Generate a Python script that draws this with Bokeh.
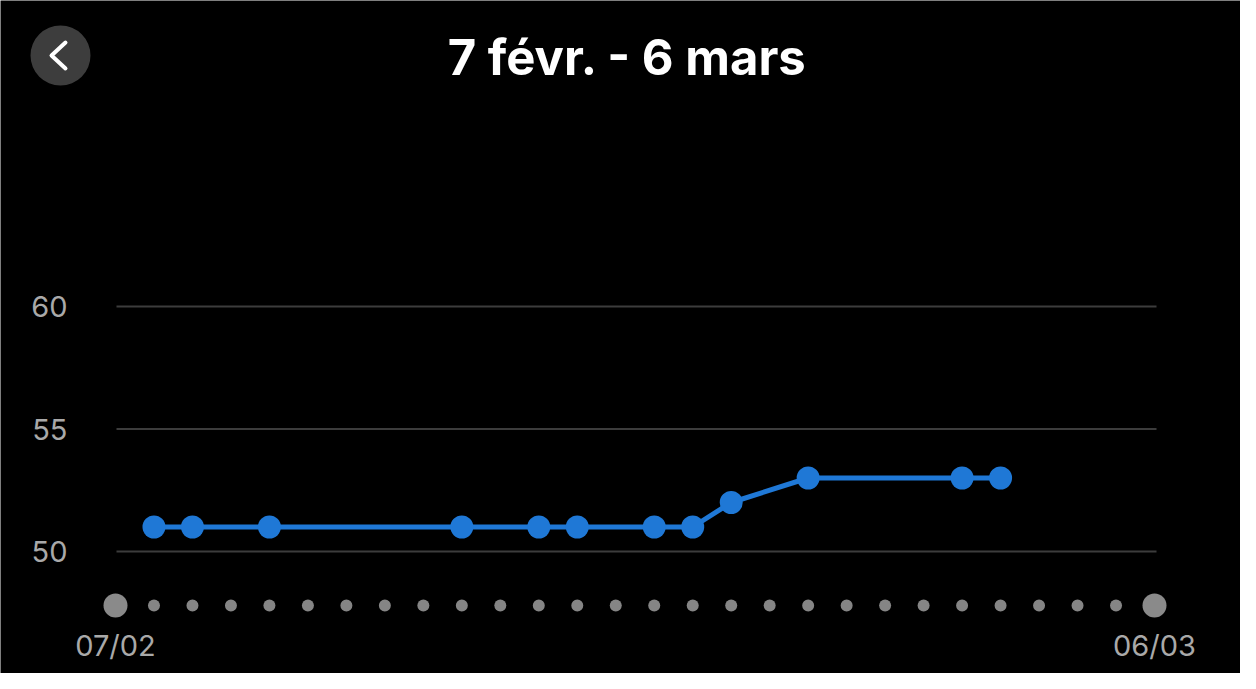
from bokeh.plotting import figure
from bokeh.models import Range1d
from bokeh.embed import file_html
from bokeh.resources import INLINE
from bokeh.core.properties import value

# ---- data ----
title_text = "7 févr. - 6 mars"
n_days = 28                       # 07/02 .. 06/03
start_label = "07/02"
end_label = "06/03"
point_dates = ["08/02", "09/02", "11/02", "16/02", "18/02", "19/02",
               "21/02", "22/02", "23/02", "25/02", "01/03", "02/03"]
point_days = [1, 2, 4, 9, 11, 12, 14, 15, 16, 18, 22, 23]
point_values = [51, 51, 51, 51, 51, 51, 51, 51, 52, 53, 53, 53]
y_ticks = [50, 55, 60]

# ---- layout (pixel mapping) ----
W, H = 1240, 673
PX_PER_DAY = 1039 / 27.0
PX_PER_UNIT = 24.5
X0 = -115 / PX_PER_DAY
X1 = X0 + W / PX_PER_DAY
Y1 = 60 + 306 / PX_PER_UNIT
Y0 = Y1 - H / PX_PER_UNIT

def sx(px):  # page pixel -> data x (decoration helper)
    return X0 + (px - 8) / PX_PER_DAY

def sy(py):  # page pixel -> data y (decoration helper)
    return Y1 - (py - 8) / PX_PER_UNIT

p = figure(width=W, height=H, output_backend="svg", toolbar_location=None,
           x_range=Range1d(X0, X1), y_range=Range1d(Y0, Y1),
           x_axis_type=None, y_axis_type=None, min_border=0)
p.background_fill_color = "#000000"
p.border_fill_color = "#000000"
p.outline_line_color = None
p.grid.visible = False

# grid lines
p.segment(x0=[sx(124)] * len(y_ticks), x1=[sx(1164)] * len(y_ticks),
          y0=y_ticks, y1=y_ticks, line_color="#3c3c3c", line_width=2)
# y tick labels
p.text(x=[sx(75)] * len(y_ticks), y=y_ticks, text=[str(t) for t in y_ticks],
       text_align="right", text_baseline="middle", text_color="#a9a9a9",
       text_font=value("Inter"), text_font_size="29px")

# day dots
dot_row_y = sy(613)
small_days = list(range(1, n_days - 1))
p.scatter(x=small_days, y=[dot_row_y] * len(small_days), size=12,
          fill_color="#858585", line_color=None)
p.scatter(x=[0, n_days - 1], y=[dot_row_y] * 2, size=24,
          fill_color="#8a8a8a", line_color=None)
# date labels
p.text(x=[0, n_days - 1], y=[sy(653)] * 2, text=[start_label, end_label],
       text_align="center", text_baseline="middle", text_color="#a9a9a9",
       text_font=value("Inter"), text_font_size="29px")

# series
blue = "#1f78d6"
p.line(point_days, point_values, line_color=blue, line_width=5)
p.scatter(point_days, point_values, size=23, fill_color=blue, line_color=None)

# title
p.text(x=[sx(635)], y=[sy(65)], text=[title_text], text_align="center",
       text_baseline="middle", text_color="#ffffff",
       text_font=value("Inter"), text_font_style="bold", text_font_size="49px")

# back button
p.scatter(x=[sx(68)], y=[sy(63)], size=60, fill_color="#3d3d3d", line_color=None)
p.line(x=[sx(73), sx(59), sx(73)], y=[sy(50), sy(63), sy(76)],
       line_color="#ffffff", line_width=4, line_cap="round", line_join="round")

html = file_html(p, INLINE)
html = html.replace("<body>", '<body style="background:#000000;margin:8px">', 1)
open("out.html", "w").write(html)
